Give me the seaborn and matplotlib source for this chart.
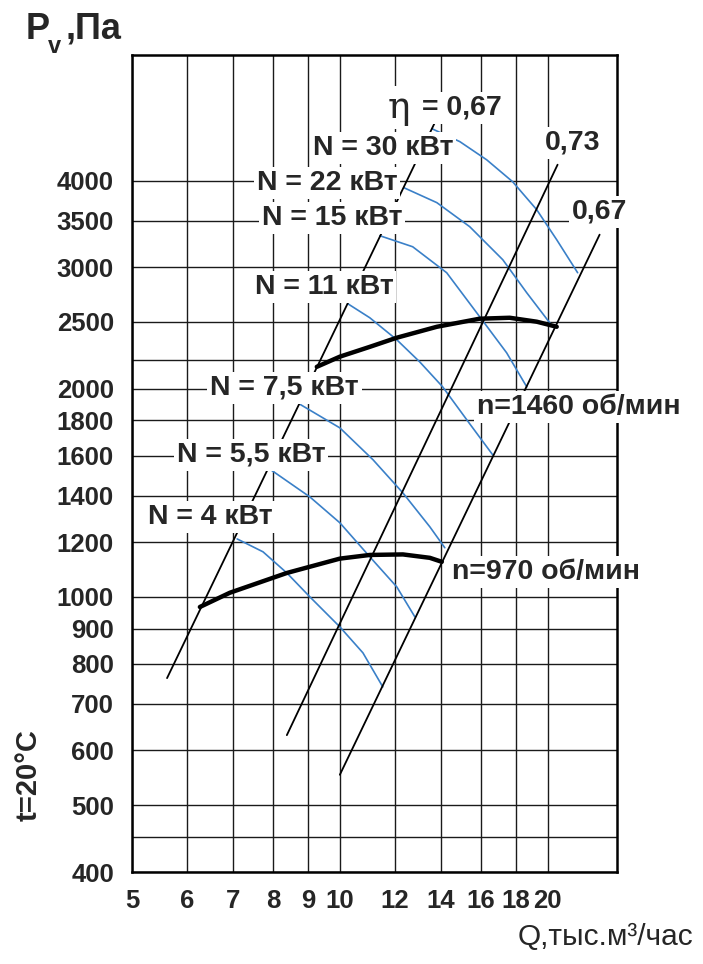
import numpy as np
import pandas as pd
import matplotlib
matplotlib.use("Agg")
import matplotlib.pyplot as plt
import seaborn as sns

# Q, thousand m3/h  /  Pv, Pa
n970_q = [6.27, 6.93, 8.38, 10.0, 11.05, 12.34, 13.5, 14.05]
n970_p = [967, 1014, 1083, 1136, 1150, 1152, 1139, 1124]
n1460_q = [9.26, 10.0, 11.05, 12.09, 13.82, 15.94, 17.62, 19.28, 20.61]
n1460_p = [2152, 2226, 2300, 2371, 2459, 2526, 2534, 2501, 2459]

# power curves
n4_q = [7.10, 7.74, 8.38, 9.05, 10.0, 10.80, 11.54]
n4_p = [1213, 1162, 1083, 1000, 905, 830, 741]
n55_q = [7.87, 9.05, 10.0, 11.05, 12.09, 12.84]
n55_p = [1537, 1395, 1280, 1143, 1034, 936]
n75_q = [8.75, 10.0, 11.17, 12.34, 13.50, 14.19]
n75_p = [1900, 1756, 1579, 1414, 1263, 1178]
n11_q = [10.27, 11.05, 12.09, 13.05, 14.09, 15.42, 16.65]
n11_p = [2655, 2534, 2355, 2188, 2013, 1780, 1605]
n15_q = [11.43, 12.75, 14.28, 15.94, 17.44, 18.65]
n15_p = [3330, 3210, 2944, 2543, 2255, 2013]
n22_q = [12.38, 13.82, 15.42, 17.22, 18.65, 20.34]
n22_p = [3908, 3718, 3432, 3074, 2754, 2459]
n30_q = [13.59, 14.92, 16.32, 17.79, 19.28, 20.61, 22.1]
n30_p = [4757, 4556, 4288, 3987, 3632, 3286, 2944]

# efficiency lines (eta = 0.67 / 0.73 / 0.67)
eta_left_q = [5.62, 13.86]
eta_left_p = [763, 4952]
eta_mid_q = [8.38, 20.67]
eta_mid_p = [631, 4219]
eta_right_q = [10.0, 23.78]
eta_right_p = [553, 3342]

xticks = [5, 6, 7, 8, 9, 10, 12, 14, 16, 18, 20]
yticks = [400, 450, 500, 600, 700, 800, 900, 1000, 1200, 1400, 1600, 1800,
          2000, 2200, 2500, 3000, 3500, 4000]
ylabels = ["400", "", "500", "600", "700", "800", "900", "1000", "1200", "1400",
           "1600", "1800", "2000", "", "2500", "3000", "3500", "4000"]

power_labels = ["N = 4 кВт", "N = 5,5 кВт", "N = 7,5 кВт", "N = 11 кВт",
                "N = 15 кВт", "N = 22 кВт", "N = 30 кВт"]
power_label_q = [5.27, 5.81, 6.49, 7.53, 7.71, 7.58, 9.14]
power_label_p = [1306, 1605, 2006, 2810, 3536, 3973, 4465]

sns.set_style("white")
plt.rcParams['font.family'] = ['Liberation Sans', 'DejaVu Sans']

fig = plt.figure(figsize=(7.03, 9.64), dpi=100)
ax = fig.add_axes([132/703, 1-872/964, 485/703, 817/964])
ax.set_xscale("log")
ax.set_yscale("log")
ax.set_xlim(5, 25.2)
ax.set_ylim(400, 6080)

blue = "#3a80c8"
for q, p in [(n4_q, n4_p), (n55_q, n55_p), (n75_q, n75_p), (n11_q, n11_p),
             (n15_q, n15_p), (n22_q, n22_p), (n30_q, n30_p)]:
    sns.lineplot(x=q, y=p, ax=ax, color=blue, lw=1.2, sort=False, estimator=None, zorder=3)

for q, p in [(eta_left_q, eta_left_p), (eta_mid_q, eta_mid_p), (eta_right_q, eta_right_p)]:
    sns.lineplot(x=q, y=p, ax=ax, color="black", lw=1.3, sort=False, estimator=None, zorder=3)

for q, p in [(n970_q, n970_p), (n1460_q, n1460_p)]:
    sns.lineplot(x=q, y=p, ax=ax, color="black", lw=3.2, sort=False, estimator=None, zorder=4)

ax.xaxis.set_major_locator(matplotlib.ticker.FixedLocator(xticks))
ax.xaxis.set_major_formatter(matplotlib.ticker.FixedFormatter([str(v) for v in xticks]))
ax.xaxis.set_minor_locator(matplotlib.ticker.NullLocator())
ax.yaxis.set_major_locator(matplotlib.ticker.FixedLocator(yticks))
ax.yaxis.set_major_formatter(matplotlib.ticker.FixedFormatter(ylabels))
ax.yaxis.set_minor_locator(matplotlib.ticker.NullLocator())
ax.grid(True, which="major", color="#1a1a1a", lw=1.0)
ax.tick_params(length=0, labelsize=18.5)
ax.tick_params(axis="x", pad=12)
ax.tick_params(axis="y", pad=13)
for lab in ax.get_xticklabels() + ax.get_yticklabels():
    lab.set_fontweight("bold")
for s in ax.spines.values():
    s.set_color("black")
    s.set_linewidth(1.8)

box = dict(boxstyle="square,pad=0.1", fc="white", ec="none")
lab_kw = dict(fontsize=20.5, fontweight="bold", ha="left", va="center", bbox=box, zorder=6)
for txt, q, p in zip(power_labels, power_label_q, power_label_p):
    ax.text(q, p, txt, **lab_kw)

ax.text(11.74, 5101, "η", fontsize=27, family="DejaVu Serif", ha="left", va="center",
        bbox=box, zorder=6)
ax.text(13.15, 5101, "= 0,67", **lab_kw)
ax.text(19.8, 4540, "0,73", **lab_kw)
ax.text(21.66, 3608, "0,67", **lab_kw)
ax.text(15.79, 1884, "n=1460 об/мин", **lab_kw)
ax.text(14.52, 1087, "n=970 об/мин", **lab_kw)

# axis titles
fig.text(26/703, 1-39/964, "P", fontsize=26, fontweight="bold", ha="left", va="baseline")
fig.text(48/703, 1-53/964, "v", fontsize=17, fontweight="bold", ha="left", va="baseline")
fig.text(66/703, 1-39/964, ",Па", fontsize=26, fontweight="bold", ha="left", va="baseline")
fig.text(29/703, 1-775/964, "t=20°C", fontsize=21, fontweight="bold", rotation=90,
         ha="center", va="center")
fig.text(693/703, 1-945/964, "Q,тыс.м³/час", fontsize=21.5, ha="right", va="baseline")

fig.savefig("out.png", dpi=100)
